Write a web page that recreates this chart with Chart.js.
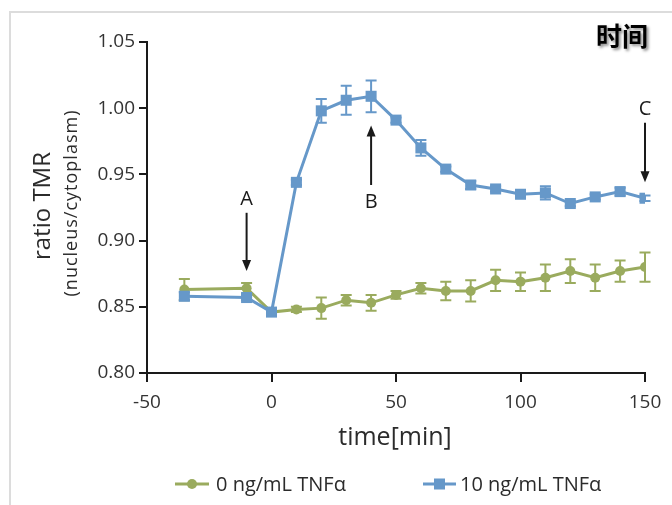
<!DOCTYPE html>
<html>
<head>
<meta charset="utf-8">
<script src="https://cdn.jsdelivr.net/npm/chart.js@4/dist/chart.umd.min.js"></script>
<style>
  html, body { margin: 0; padding: 0; background: #fff; }
  #wrap { width: 672px; height: 505px; position: relative; }
</style>
</head>
<body>
<div id="wrap"><canvas id="c" width="672" height="505"></canvas></div>
<script>
// Time points (min)
const times = [-35, -10, 0, 10, 20, 30, 40, 50, 60, 70, 80, 90, 100, 110, 120, 130, 140, 150];

// 0 ng/mL TNFα: mean ratio and error
const control    = [0.863, 0.864, 0.846, 0.848, 0.849, 0.855, 0.853, 0.859, 0.864, 0.862, 0.862, 0.870, 0.869, 0.872, 0.877, 0.872, 0.877, 0.880];
const controlErr = [0.008, 0.004, 0.002, 0.002, 0.008, 0.004, 0.006, 0.003, 0.004, 0.007, 0.008, 0.008, 0.007, 0.010, 0.009, 0.010, 0.008, 0.011];

// 10 ng/mL TNFα: mean ratio and error
const treated    = [0.858, 0.857, 0.846, 0.944, 0.998, 1.006, 1.009, 0.991, 0.970, 0.954, 0.942, 0.939, 0.935, 0.936, 0.928, 0.933, 0.937, 0.932];
const treatedErr = [0.003, 0.002, 0.002, 0.002, 0.009, 0.011, 0.012, 0.002, 0.006, 0.002, 0.003, 0.002, 0.002, 0.005, 0.002, 0.002, 0.003, 0.002];

// Axis ticks
const xTicks = [-50, 0, 50, 100, 150];
const yTicks = [0.80, 0.85, 0.90, 0.95, 1.00, 1.05];

// Series labels
const seriesLabels = ['0 ng/mL TNF\u03B1', '10 ng/mL TNF\u03B1'];

// Time-point markers A, B, C (time, label height, arrow start, arrow end)
const markerLabels = ['A', 'B', 'C'];
const markerTimes  = [-10, 40, 150];
const markerTextY  = [0.931, 0.929, 0.999];
const markerFrom   = [0.921, 0.942, 0.989];
const markerTo     = [0.877, 0.987, 0.944];

const GREEN = '#9aab5e';
const BLUE  = '#6698c9';
const FONT  = '"Open Sans", "DejaVu Sans", sans-serif';
const errors = [treatedErr, controlErr];

function toPoints(ys) { return times.map((t, i) => ({ x: t, y: ys[i] })); }

function arrow(ctx, x, y1, y2) {
  const dir = y2 > y1 ? 1 : -1;
  ctx.save();
  ctx.strokeStyle = '#1a1a1a';
  ctx.fillStyle = '#1a1a1a';
  ctx.lineWidth = 2;
  ctx.beginPath();
  ctx.moveTo(x, y1);
  ctx.lineTo(x, y2 - dir * 8);
  ctx.stroke();
  ctx.beginPath();
  ctx.moveTo(x, y2);
  ctx.lineTo(x - 4.5, y2 - dir * 11);
  ctx.lineTo(x + 4.5, y2 - dir * 11);
  ctx.closePath();
  ctx.fill();
  ctx.restore();
}

const decorations = {
  id: 'decorations',
  beforeDraw(chart) {
    const ctx = chart.ctx;
    ctx.save();
    ctx.fillStyle = '#fff';
    ctx.fillRect(0, 0, chart.width, chart.height);
    // light frame along the top and left
    ctx.strokeStyle = '#dcdcdc';
    ctx.lineWidth = 2;
    ctx.beginPath();
    ctx.moveTo(672, 12);
    ctx.lineTo(10, 12);
    ctx.lineTo(10, 505);
    ctx.stroke();
    ctx.restore();
  },
  beforeDatasetDraw(chart, args) {
    const ctx = chart.ctx;
    const ds = chart.data.datasets[args.index];
    const err = errors[args.index];
    const xs = chart.scales.x, ys = chart.scales.y;
    ctx.save();
    ctx.strokeStyle = ds.borderColor;
    ctx.lineWidth = 2;
    times.forEach((t, i) => {
      const v = ds.data[i].y;
      const px = xs.getPixelForValue(t);
      const top = ys.getPixelForValue(v + err[i]);
      const bot = ys.getPixelForValue(v - err[i]);
      ctx.beginPath();
      ctx.moveTo(px, top); ctx.lineTo(px, bot);
      ctx.moveTo(px - 5.5, top); ctx.lineTo(px + 5.5, top);
      ctx.moveTo(px - 5.5, bot); ctx.lineTo(px + 5.5, bot);
      ctx.stroke();
    });
    ctx.restore();
  },
  afterDraw(chart) {
    const ctx = chart.ctx;
    const xs = chart.scales.x, ys = chart.scales.y;

    // A / B / C markers
    ctx.save();
    ctx.fillStyle = '#1a1a1a';
    ctx.font = '20px ' + FONT;
    ctx.textAlign = 'center';
    ctx.textBaseline = 'middle';
    markerLabels.forEach((lab, i) => {
      const px = xs.getPixelForValue(markerTimes[i]);
      ctx.fillText(lab, px, ys.getPixelForValue(markerTextY[i]));
      arrow(ctx, px, ys.getPixelForValue(markerFrom[i]), ys.getPixelForValue(markerTo[i]));
    });
    ctx.restore();

    // y axis titles
    ctx.save();
    ctx.fillStyle = '#2b2b2b';
    ctx.textAlign = 'center';
    ctx.textBaseline = 'middle';
    ctx.translate(43, 206);
    ctx.rotate(-Math.PI / 2);
    ctx.font = '24px ' + FONT;
    ctx.fillText('ratio TMR', 0, 0);
    ctx.restore();
    ctx.save();
    ctx.fillStyle = '#2b2b2b';
    ctx.textAlign = 'center';
    ctx.textBaseline = 'middle';
    ctx.translate(72, 203);
    ctx.rotate(-Math.PI / 2);
    ctx.font = '18px ' + FONT;
    ctx.letterSpacing = '1px';
    ctx.fillText('(nucleus/cytoplasm)', 0, 0);
    ctx.restore();

    // x axis title
    ctx.save();
    ctx.fillStyle = '#2b2b2b';
    ctx.textAlign = 'center';
    ctx.textBaseline = 'middle';
    ctx.font = '25px ' + FONT;
    ctx.fillText('time[min]', 395, 438);
    ctx.restore();

    // legend
    ctx.save();
    const ly = 484;
    ctx.lineWidth = 3;
    ctx.strokeStyle = GREEN;
    ctx.beginPath(); ctx.moveTo(175, ly); ctx.lineTo(209, ly); ctx.stroke();
    ctx.fillStyle = GREEN;
    ctx.beginPath(); ctx.arc(192, ly, 5, 0, Math.PI * 2); ctx.fill();
    ctx.strokeStyle = BLUE;
    ctx.beginPath(); ctx.moveTo(423, ly); ctx.lineTo(456, ly); ctx.stroke();
    ctx.fillStyle = BLUE;
    ctx.fillRect(434, ly - 5.5, 11, 11);
    ctx.fillStyle = '#2b2b2b';
    ctx.font = '20px ' + FONT;
    ctx.textAlign = 'left';
    ctx.textBaseline = 'middle';
    ctx.fillText(seriesLabels[0], 216, ly + 1);
    ctx.fillText(seriesLabels[1], 460, ly + 1);
    ctx.restore();

    // corner caption
    ctx.save();
    ctx.font = 'bold 26px "Noto Sans CJK SC", sans-serif';
    ctx.textAlign = 'center';
    ctx.textBaseline = 'middle';
    ctx.shadowColor = 'rgba(0,0,0,0.45)';
    ctx.shadowBlur = 3;
    ctx.shadowOffsetX = 2;
    ctx.shadowOffsetY = 2;
    ctx.fillStyle = '#000';
    ctx.fillText('时间', 622, 36);
    ctx.restore();
  }
};

new Chart(document.getElementById('c'), {
  type: 'line',
  data: {
    datasets: [
      {
        label: seriesLabels[1],
        data: toPoints(treated),
        borderColor: BLUE,
        backgroundColor: BLUE,
        borderWidth: 3,
        pointStyle: 'rect',
        pointRadius: 7.8,
        pointHoverRadius: 7.8,
        pointBorderWidth: 0,
        tension: 0,
        order: 0
      },
      {
        label: seriesLabels[0],
        data: toPoints(control),
        borderColor: GREEN,
        backgroundColor: GREEN,
        borderWidth: 3,
        pointStyle: 'circle',
        pointRadius: 5,
        pointHoverRadius: 5,
        pointBorderWidth: 0,
        tension: 0,
        order: 1
      }
    ]
  },
  options: {
    responsive: false,
    animation: false,
    events: [],
    layout: { padding: { top: 42, right: 27, bottom: 0, left: 0 } },
    plugins: { legend: { display: false }, tooltip: { enabled: false } },
    scales: {
      x: {
        type: 'linear',
        min: -50, max: 150,
        afterBuildTicks(s) { s.ticks = xTicks.map(v => ({ value: v })); },
        afterFit(s) { s.height = 132; },
        border: { display: true, color: '#1a1a1a', width: 2 },
        grid: { drawOnChartArea: false, drawTicks: true, tickLength: 9, color: '#1a1a1a', lineWidth: 2 },
        ticks: { color: '#333', font: { family: FONT, size: 19 }, padding: 9, maxRotation: 0 }
      },
      y: {
        type: 'linear',
        min: 0.80, max: 1.05,
        afterBuildTicks(s) { s.ticks = yTicks.map(v => ({ value: v })); },
        afterFit(s) { s.width = 147; },
        border: { display: true, color: '#1a1a1a', width: 2 },
        grid: { drawOnChartArea: false, drawTicks: true, tickLength: 8, color: '#1a1a1a', lineWidth: 2 },
        ticks: { color: '#333', font: { family: FONT, size: 19 }, padding: 4, callback: v => Number(v).toFixed(2) }
      }
    }
  },
  plugins: [decorations]
});
</script>
</body>
</html>
